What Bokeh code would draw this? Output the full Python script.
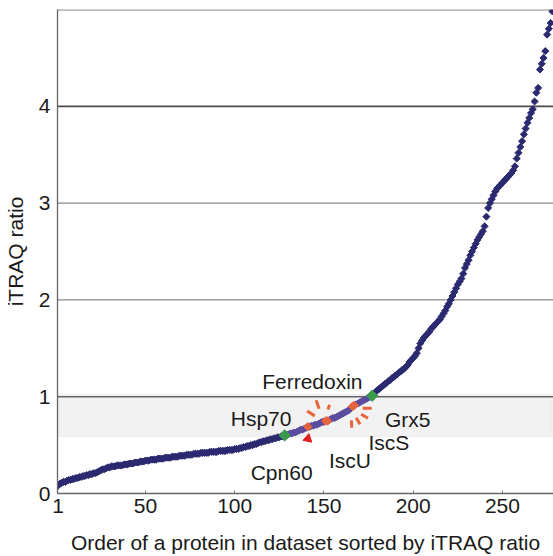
import math
from bokeh.plotting import figure
from bokeh.models import Range1d, FixedTicker, Span, BoxAnnotation, ColumnDataSource
from bokeh.core.properties import value
from bokeh.embed import file_html
from bokeh.resources import INLINE

# ---------------- data ----------------
ratio = [
    0.08, 0.10, 0.11, 0.12, 0.12, 0.13, 0.14, 0.14, 0.15, 0.15,
    0.16, 0.16, 0.17, 0.17, 0.18, 0.18, 0.19, 0.19, 0.20, 0.20,
    0.21, 0.21, 0.22, 0.23, 0.24, 0.25, 0.25, 0.26, 0.27, 0.27,
    0.28, 0.28, 0.28, 0.29, 0.29, 0.29, 0.29, 0.30, 0.30, 0.30,
    0.31, 0.31, 0.31, 0.32, 0.32, 0.32, 0.33, 0.33, 0.33, 0.34,
    0.34, 0.34, 0.35, 0.35, 0.35, 0.35, 0.36, 0.36, 0.36, 0.36,
    0.37, 0.37, 0.37, 0.37, 0.38, 0.38, 0.38, 0.38, 0.39, 0.39,
    0.39, 0.39, 0.40, 0.40, 0.40, 0.40, 0.41, 0.41, 0.41, 0.41,
    0.42, 0.42, 0.42, 0.42, 0.42, 0.43, 0.43, 0.43, 0.43, 0.43,
    0.44, 0.44, 0.44, 0.44, 0.44, 0.45, 0.45, 0.45, 0.45, 0.46,
    0.46, 0.46, 0.47, 0.47, 0.48, 0.48, 0.49, 0.49, 0.50, 0.50,
    0.51, 0.51, 0.52, 0.53, 0.53, 0.54, 0.54, 0.55, 0.55, 0.56,
    0.56, 0.57, 0.57, 0.58, 0.58, 0.59, 0.59, 0.60, 0.60, 0.61,
    0.62, 0.62, 0.63, 0.63, 0.64, 0.65, 0.66, 0.66, 0.67, 0.68,
    0.69, 0.69, 0.70, 0.70, 0.71, 0.71, 0.72, 0.73, 0.74, 0.74,
    0.75, 0.75, 0.76, 0.77, 0.78, 0.78, 0.79, 0.80, 0.81, 0.82,
    0.83, 0.84, 0.85, 0.86, 0.88, 0.90, 0.91, 0.92, 0.93, 0.94,
    0.95, 0.96, 0.97, 0.98, 0.99, 1.00, 1.01, 1.03, 1.05, 1.07,
    1.08, 1.10, 1.11, 1.13, 1.14, 1.16, 1.17, 1.19, 1.20, 1.22,
    1.23, 1.25, 1.26, 1.28, 1.29, 1.31, 1.33, 1.36, 1.38, 1.40,
    1.42, 1.45, 1.50, 1.55, 1.58, 1.61, 1.63, 1.65, 1.67, 1.70,
    1.72, 1.74, 1.76, 1.78, 1.80, 1.83, 1.86, 1.89, 1.93, 1.96,
    2.00, 2.04, 2.08, 2.12, 2.16, 2.19, 2.22, 2.27, 2.33, 2.37,
    2.41, 2.46, 2.50, 2.54, 2.58, 2.62, 2.65, 2.68, 2.71, 2.76,
    2.86, 2.95, 3.00, 3.04, 3.08, 3.12, 3.15, 3.17, 3.19, 3.21,
    3.23, 3.25, 3.27, 3.29, 3.31, 3.34, 3.38, 3.46, 3.52, 3.58,
    3.64, 3.71, 3.77, 3.83, 3.88, 3.93, 3.97, 4.05, 4.14, 4.19,
    4.38, 4.44, 4.50, 4.57, 4.74, 4.80, 4.86, 4.98,
]
order = list(range(1, len(ratio) + 1))

purple_range = (129, 176)           # proteins in the highlighted stretch
orange_order = [141, 151, 152, 166, 167]
green_order = [128, 177]
x_ticks = [1, 50, 100, 150, 200, 250]
y_ticks = [0, 1, 2, 3, 4]
band = (0.59, 1.02)

# label -> (anchor protein order, dx px, dy px)  (screen offsets, y down)
labels = [
    ("Cpn60", 128, -34, 37),
    ("Ferredoxin", 177, -110, -14),
    ("IscU", 141, 21, 34),
    ("IscS", 166, 16, 36),
    ("Grx5", 178, 11, 26),
    ("Hsp70", 151, -95, -2),
]

# ---------------- style / layout ----------------
NAVY = "#2b2a70"
PURPLE = "#5b4c9f"
ORANGE = "#e8643c"
GREEN = "#3a9a4c"
RED = "#e0201e"
FONT = "Liberation Sans"
FS = "21px"

W, H = 553, 556
ML, MT, MB, MR = 57, 9, 63, 0
X0, X1 = 0.72, 278.6
Y0, Y1 = 0.0, 5.0
FW, FH = W - ML - MR, H - MT - MB
PXX = FW / (X1 - X0)
PXY = FH / (Y1 - Y0)

p = figure(width=W, height=H, output_backend="svg", toolbar_location=None,
           x_range=Range1d(X0, X1), y_range=Range1d(Y0, Y1),
           min_border_left=ML, min_border_top=MT, min_border_bottom=MB,
           min_border_right=MR)
p.outline_line_color = None
p.background_fill_color = "white"
p.border_fill_color = "white"
p.xgrid.visible = False
p.ygrid.visible = False

# band
p.add_layout(BoxAnnotation(left=1.45, right=277.9, bottom=band[0], top=band[1],
                           fill_color="#f2f2f2", fill_alpha=1.0,
                           line_color="#d9d9d9", line_width=2, level="underlay"))
# grid lines
for yv, col, lw in [(1, "#666666", 1.5), (2, "#8a8a8a", 1.2), (3, "#8a8a8a", 1.2), (4, "#4a4a4a", 1.8)]:
    p.add_layout(Span(location=yv, dimension="width", line_color=col,
                      line_width=lw, level="underlay"))
# top frame line
p.add_layout(Span(location=Y1 - 0.004, dimension="width", line_color="#777777",
                  line_width=1.3, level="underlay"))

# axes
for ax in (p.xaxis[0], p.yaxis[0]):
    ax.axis_line_color = "#666666"
    ax.axis_line_width = 1.3
    ax.major_label_text_font = FONT
    ax.major_label_text_font_size = FS
    ax.major_label_text_color = "#1a1a1a"
    ax.axis_label_text_font = FONT
    ax.axis_label_text_font_size = FS
    ax.axis_label_text_font_style = "normal"
    ax.axis_label_text_color = "#1a1a1a"
    ax.minor_tick_line_color = None

p.xaxis.ticker = FixedTicker(ticks=x_ticks)
p.yaxis.ticker = FixedTicker(ticks=y_ticks)
p.xaxis.major_tick_in = 3
p.xaxis.major_tick_out = 0
p.xaxis.major_tick_line_color = "#777777"
p.yaxis.major_tick_in = 0
p.yaxis.major_tick_out = 0
p.xaxis.major_label_standoff = 5
p.yaxis.major_label_standoff = 7
p.xaxis.axis_label = "Order of a protein in dataset sorted by iTRAQ ratio"
p.yaxis.axis_label = "iTRAQ ratio"
p.xaxis.axis_label_standoff = 15
p.yaxis.axis_label_standoff = 9

# points
def subset(sel):
    xs = [o for o in order if sel(o)]
    return ColumnDataSource(dict(x=xs, y=[ratio[o - 1] for o in xs]))

lo, hi = purple_range
src_navy = subset(lambda o: not (lo <= o <= hi))
src_purple = subset(lambda o: lo <= o <= hi)
src_orange = subset(lambda o: o in orange_order)
src_green = subset(lambda o: o in green_order)

MK = dict(marker="square", angle=math.pi / 4, size=5)
p.scatter("x", "y", source=src_navy, color=NAVY, **MK)
p.scatter("x", "y", source=src_purple, color=PURPLE, **MK)
p.scatter("x", "y", source=src_orange, color=ORANGE, marker="square",
          angle=math.pi / 4, size=6)
p.scatter("x", "y", source=src_green, color=GREEN, marker="square",
          angle=math.pi / 4, size=8)

# bursts (angle deg, r0 px, r1 px) around anchor proteins
bursts = [
    (150, [(147, 11, 20), (110, 14, 23), (72, 13, 18)]),
    (165, [(0, 12, 21), (-30, 12, 20), (-60, 11, 18.5), (-87, 12, 19.5)]),
]
bx0, by0, bx1, by1 = [], [], [], []
for anchor, rays in bursts:
    ax_, ay_ = anchor, ratio[anchor - 1]
    for ang, r0, r1 in rays:
        c, s = math.cos(math.radians(ang)), math.sin(math.radians(ang))
        bx0.append(ax_ + r0 * c / PXX)
        by0.append(ay_ + r0 * s / PXY)
        bx1.append(ax_ + r1 * c / PXX)
        by1.append(ay_ + r1 * s / PXY)
p.segment(bx0, by0, bx1, by1, line_color=ORANGE, line_width=3)

# red pointer under IscU
p.scatter([141], [ratio[140] - 12 / PXY], marker="triangle", size=9,
          color=RED, angle=-0.2)

# text labels
tx, ty, tt = [], [], []
for name, o, dx, dy in labels:
    tx.append(o + dx / PXX)
    ty.append(ratio[o - 1] - dy / PXY)
    tt.append(name)
p.text(tx, ty, text=tt, text_font=value(FONT), text_font_size=FS,
       text_color="#1a1a1a", text_align="left", text_baseline="alphabetic")

open("out.html", "w").write(file_html(p, INLINE))
